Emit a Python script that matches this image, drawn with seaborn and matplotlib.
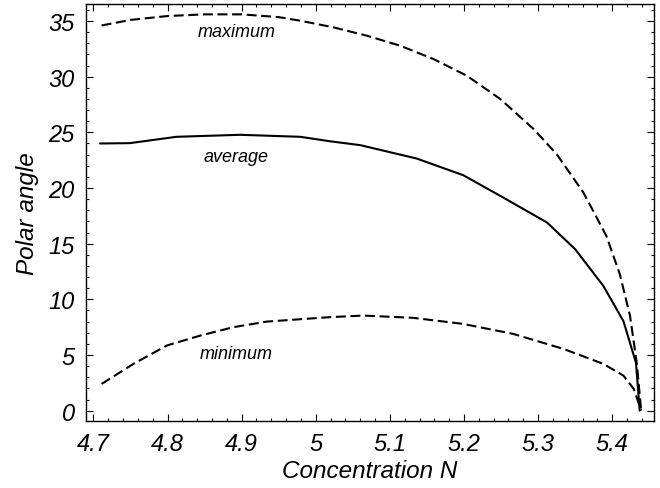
import matplotlib
matplotlib.use("Agg")
import matplotlib.pyplot as plt
import seaborn as sns
import pandas as pd
from matplotlib.ticker import MultipleLocator

# Data
max_x = [4.711, 4.75, 4.80, 4.85, 4.90, 4.95, 4.979, 5.024, 5.069, 5.114, 5.159, 5.204, 5.249, 5.294, 5.325, 5.361, 5.392, 5.410, 5.424, 5.433, 5.439]
max_y = [34.6, 35.1, 35.45, 35.6, 35.6, 35.35, 35.03, 34.43, 33.68, 32.78, 31.58, 30.08, 27.99, 25.29, 23.04, 19.6, 15.7, 12.3, 8.5, 4.3, 0.0]

avg_x = [4.709, 4.749, 4.812, 4.898, 4.979, 5.019, 5.060, 5.136, 5.199, 5.253, 5.312, 5.350, 5.388, 5.415, 5.432, 5.437]
avg_y = [24.0, 24.03, 24.6, 24.78, 24.6, 24.2, 23.85, 22.65, 21.15, 19.14, 16.9, 14.5, 11.2, 8.05, 4.3, 0.0]

min_x = [4.711, 4.754, 4.799, 4.844, 4.889, 4.934, 5.019, 5.064, 5.131, 5.198, 5.266, 5.334, 5.388, 5.415, 5.429, 5.439]
min_y = [2.4, 4.2, 5.85, 6.74, 7.5, 8.0, 8.4, 8.54, 8.34, 7.8, 6.9, 5.55, 4.2, 3.15, 1.95, 0.0]

x_ticks = [4.7, 4.8, 4.9, 5.0, 5.1, 5.2, 5.3, 5.4]
x_tick_labels = ["4.7", "4.8", "4.9", "5", "5.1", "5.2", "5.3", "5.4"]
y_ticks = [0, 5, 10, 15, 20, 25, 30, 35]

labels = ["maximum", "average", "minimum"]
label_x = [4.893, 4.893, 4.893]
label_y = [34.05, 22.85, 5.1]

sns.set_theme(style="white")
plt.rcParams['font.family'] = ['Liberation Sans', 'DejaVu Sans']
plt.rcParams['text.color'] = 'black'
plt.rcParams['axes.labelcolor'] = 'black'
plt.rcParams['xtick.color'] = 'black'
plt.rcParams['ytick.color'] = 'black'

fig = plt.figure(figsize=(6.6, 4.89), dpi=100)
ax = fig.add_axes([86/660, 1 - 422/489, (654 - 86)/660, (422 - 5)/489])

df_max = pd.DataFrame({"x": max_x, "y": max_y})
df_avg = pd.DataFrame({"x": avg_x, "y": avg_y})
df_min = pd.DataFrame({"x": min_x, "y": min_y})

dash = (0, (4.8, 2.2))
sns.lineplot(data=df_max, x="x", y="y", ax=ax, color="black", lw=1.5, sort=False,
             linestyle=dash, estimator=None)
sns.lineplot(data=df_avg, x="x", y="y", ax=ax, color="black", lw=1.5, sort=False,
             estimator=None)
sns.lineplot(data=df_min, x="x", y="y", ax=ax, color="black", lw=1.5, sort=False,
             linestyle=dash, estimator=None)

for t, lx, ly in zip(labels, label_x, label_y):
    ax.text(lx, ly, t, ha="center", va="center", fontsize=13, style="italic", color="black")

ax.set_xlim(4.690, 5.4563)
ax.set_ylim(-0.93, 36.53)
ax.set_xticks(x_ticks)
ax.set_xticklabels(x_tick_labels)
ax.set_yticks(y_ticks)
ax.set_yticklabels([str(v) for v in y_ticks])
ax.xaxis.set_minor_locator(MultipleLocator(0.02))
ax.yaxis.set_minor_locator(MultipleLocator(1))
ax.tick_params(which="both", direction="in", top=True, right=True, bottom=True, left=True,
               color="black", width=0.8)
ax.tick_params(which="major", length=5, labelsize=17, pad=8, labelcolor="black")
ax.tick_params(which="minor", length=2.5)
for lab in ax.get_xticklabels() + ax.get_yticklabels():
    lab.set_fontstyle("italic")

ax.set_xlabel("Concentration N", fontsize=17.5, style="italic", labelpad=3, color="black")
ax.set_ylabel("Polar angle", fontsize=17.5, style="italic", labelpad=7, color="black")

for s in ax.spines.values():
    s.set_color("black")
    s.set_linewidth(1.0)

fig.savefig("out.png", dpi=100)
